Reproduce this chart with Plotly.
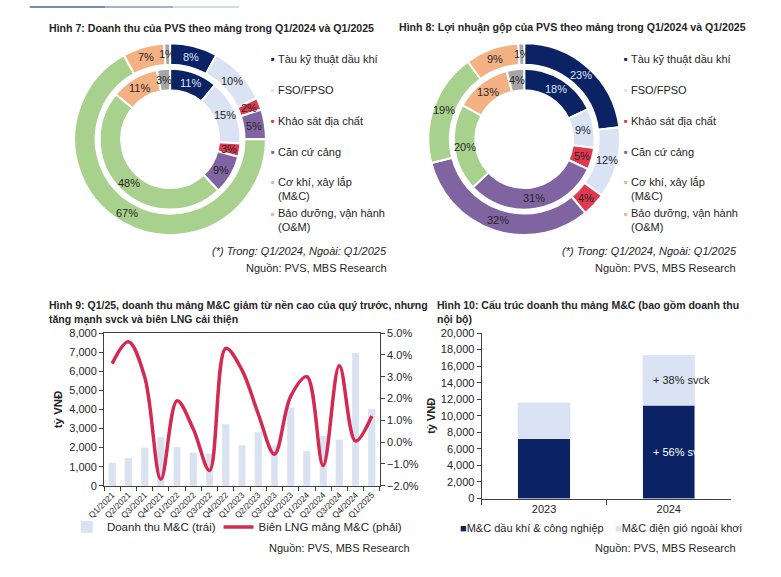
import math
import plotly.graph_objects as go

W, H = 781, 577
FONT = "Liberation Sans, Arial, sans-serif"
TXT = "#262626"

# ---------------- data ----------------
segments = ["Tàu kỹ thuật dầu khí", "FSO/FPSO", "Khảo sát địa chất", "Căn cứ cảng",
            "Cơ khí, xây lắp<br>(M&C)", "Bảo dưỡng, vận hành<br>(O&M)", "Khác"]
seg_colors = ["#0b2264", "#dae3f3", "#e0384f", "#8064a2", "#a9d18e", "#f4b183", "#a6a6a6"]
seg_text_colors = ["#dce6f6", TXT, TXT, TXT, TXT, TXT, TXT]

rev_q1_2024 = [11, 15, 3, 9, 48, 11, 3]     # inner ring, Hình 7
rev_q1_2025 = [8, 10, 2, 5, 67, 7, 1]       # outer ring, Hình 7
gp_q1_2024 = [18, 9, 5, 31, 20, 13, 4]      # inner ring, Hình 8
gp_q1_2025 = [23, 12, 4, 32, 19, 9, 1]      # outer ring, Hình 8

quarters = ["Q1/2021", "Q2/2021", "Q3/2021", "Q4/2021", "Q1/2022", "Q2/2022", "Q3/2022",
            "Q4/2022", "Q1/2023", "Q2/2023", "Q3/2023", "Q4/2023", "Q1/2024", "Q2/2024",
            "Q3/2024", "Q4/2024", "Q1/2025"]
mc_revenue = [1200, 1450, 2000, 2550, 2030, 1740, 1670, 3220, 2120, 2800, 2100, 4080,
              1800, 2600, 2400, 6950, 4020]
mc_margin = [3.6, 4.6, 3.0, -1.7, 1.9, 0.6, -1.3, 4.3, 3.3, 1.3, -0.55, 2.1, 3.0, -1.07,
             3.5, 0.05, 1.2]

years = ["2023", "2024"]
mc_oil_industry = [7250, 11300]
mc_offshore_wind = [4350, 6000]


def px(x):
    return x / W


def py(y):
    return 1 - y / H


def pie_domain(cx, cy, r):
    return dict(x=[(cx - r) / W, (cx + r) / W], y=[1 - (cy + r) / H, 1 - (cy - r) / H])


fig = go.Figure()
ann = []

# ---------------- donuts ----------------
CY = 136
for vals, cx, r, hole in [
    (rev_q1_2025, 156.5, 98, 0.776),
    (rev_q1_2024, 156.5, 72, 0.694),
    (gp_q1_2025, 518.5, 98, 0.776),
    (gp_q1_2024, 518.5, 72, 0.694),
]:
    fig.add_trace(go.Pie(
        values=vals, labels=segments, sort=False, direction="clockwise", rotation=0,
        hole=hole, domain=pie_domain(cx, CY, r),
        marker=dict(colors=seg_colors, line=dict(color="white", width=2)),
        textinfo="none", showlegend=False, hoverinfo="label+value",
    ))
    # value labels at the middle of each ring segment (like the original)
    total = sum(vals)
    rmid = r * (1 + hole) / 2
    cum = 0
    for v, c in zip(vals, seg_text_colors):
        theta = 2 * math.pi * (cum + v / 2) / total
        cum += v
        ann.append(dict(
            x=px(cx + rmid * math.sin(theta)), y=py(CY - rmid * math.cos(theta)),
            xref="paper", yref="paper", text=f"{v}%", showarrow=False,
            xanchor="center", yanchor="middle",
            font=dict(family=FONT, size=11, color=c)))

# ---------------- Hình 9 ----------------
fig.add_trace(go.Bar(
    x=quarters, y=mc_revenue, name="Doanh thu M&C (trái)", marker_color="#d9e2f1",
    xaxis="x", yaxis="y", legend="legend",
))
fig.add_trace(go.Scatter(
    x=quarters, y=mc_margin, name="Biên LNG mảng M&C (phải)", mode="lines",
    line=dict(color="#d42a52", width=3.5, shape="spline", smoothing=1.0),
    xaxis="x", yaxis="y2", legend="legend2",
))

# ---------------- Hình 10 ----------------
fig.add_trace(go.Bar(x=years, y=mc_oil_industry, name="M&C dầu khí & công nghiệp",
                     marker_color="#0b2264", xaxis="x2", yaxis="y3", showlegend=False))
fig.add_trace(go.Bar(x=years, y=mc_offshore_wind, name="M&C điện gió ngoài khơi",
                     marker_color="#dae3f3", xaxis="x2", yaxis="y3", showlegend=False))

AX = "#404040"
tickf = dict(family=FONT, size=11, color=TXT)


def text(x, y, s, size=11, anchor="left", bold=False, italic=False, color=TXT):
    if bold:
        s = f"<b>{s}</b>"
    if italic:
        s = f"<i>{s}</i>"
    ann.append(dict(x=px(x), y=py(y), xref="paper", yref="paper", text=s, showarrow=False,
                    xanchor=anchor, yanchor="middle", align="left",
                    font=dict(family=FONT, size=size, color=color)))


# titles
text(31, 22, "Hình 7: Doanh thu của PVS theo mảng trong Q1/2024 và Q1/2025", size=10.6, bold=True)
text(388, 22, "Hình 8: Lợi nhuận gộp của PVS theo mảng trong Q1/2024 và Q1/2025", size=10.6, bold=True)
text(31, 312.5, "Hình 9: Q1/25, doanh thu mảng M&C giảm từ nền cao của quý trước, nhưng<br>tăng mạnh svck và biên LNG cải thiện", size=10.5, bold=True)
text(427, 312.5, "Hình 10: Cấu trúc doanh thu mảng M&C (bao gồm doanh thu<br>nội bộ)", size=10.5, bold=True)

# notes / sources
text(380, 250, "(*) Trong: Q1/2024, Ngoài: Q1/2025", italic=True, anchor="right")
text(380, 268, "Nguồn: PVS, MBS Research", anchor="right")
text(738, 250, "(*) Trong: Q1/2024, Ngoài: Q1/2025", italic=True, anchor="right")
text(737, 268, "Nguồn: PVS, MBS Research", anchor="right")
text(404, 554, "Nguồn: PVS, MBS Research", anchor="right")
text(737, 554, "Nguồn: PVS, MBS Research", anchor="right")

# donut legends
leg_y = [54.5, 86, 117.5, 149, 186.5, 219]
for x0 in (262, 623):
    for i in range(6):
        multi = "<br>" in segments[i]
        ymark = leg_y[i] - 6.5 if multi else leg_y[i]
        ann.append(dict(x=px(x0), y=py(ymark), xref="paper", yref="paper",
                        text=f"<span style='color:{seg_colors[i]}'>■</span>", showarrow=False,
                        xanchor="center", yanchor="middle",
                        font=dict(family=FONT, size=6, color=seg_colors[i])))
        text(x0 + 3, leg_y[i], segments[i], size=11)

# Hình 10 legend
text(451, 533, "<span style='color:#0b2264'>■</span>M&C dầu khí & công nghiệp", size=11)
text(609, 533, "<span style='color:#dae3f3'>■</span>M&C điện gió ngoài khơi", size=11)

# Hình 10 bar labels
ann.append(dict(x=0.86, y=14300, xref="x2", yref="y3", text="+ 38% svck", showarrow=False,
                xanchor="left", yanchor="middle", font=dict(family=FONT, size=11, color=TXT)))
ann.append(dict(x=0.86, y=5600, xref="x2", yref="y3", text="+ 56% svck", showarrow=False,
                xanchor="left", yanchor="middle", font=dict(family=FONT, size=11, color="white")))

shapes = [
    dict(type="rect", xref="paper", yref="paper", x0=px(13), x1=px(90), y0=py(2), y1=1,
         fillcolor="#7890aa", line_width=0),
    dict(type="rect", xref="paper", yref="paper", x0=px(90), x1=px(160), y0=py(2), y1=1,
         fillcolor="#a3b4c6", line_width=0),
    dict(type="rect", xref="paper", yref="paper", x0=px(160), x1=px(227), y0=py(2), y1=1,
         fillcolor="#d3dce6", line_width=0),
]

legfont = dict(family=FONT, size=11.5, color=TXT)

fig.update_layout(
    width=W, height=H, margin=dict(l=0, r=0, t=0, b=0),
    paper_bgcolor="white", plot_bgcolor="white",
    font=dict(family=FONT, color=TXT),
    barmode="stack", bargap=0.58,
    xaxis=dict(domain=[px(89), px(371)], anchor="y", type="category", tickangle=-45,
               tickfont=dict(family=FONT, size=8.5, color=TXT), ticks="outside", ticklen=4,
               tickson="boundaries", tickcolor=AX, showline=True, linecolor=AX, linewidth=1,
               mirror=True, showgrid=False),
    yaxis=dict(domain=[py(490), py(334)], anchor="x", range=[0, 8000], dtick=1000,
               tickformat=",", ticks="outside", ticklen=4, tickcolor=AX, tickfont=tickf,
               showline=True, linecolor=AX, showgrid=False, zeroline=False,
               title=dict(text="<b>tỷ VNĐ</b>", font=dict(family=FONT, size=11.5, color=TXT),
                          standoff=4)),
    yaxis2=dict(overlaying="y", side="right", anchor="x", range=[-2, 5], dtick=1,
                tickformat=".1f", ticksuffix="%", ticks="outside", ticklen=4, tickcolor=AX,
                tickfont=tickf, showline=True, linecolor=AX, showgrid=False, zeroline=False),
    xaxis2=dict(domain=[px(475), px(730)], anchor="y3", type="category", ticks="outside",
                ticklen=5, tickson="boundaries", tickcolor=AX, showline=True, linecolor=AX,
                tickfont=dict(family=FONT, size=11, color=TXT), showgrid=False),
    yaxis3=dict(domain=[py(503), py(334)], anchor="x2", range=[0, 20000], dtick=2000,
                tickformat=",", ticks="outside", ticklen=4, tickcolor=AX,
                tickfont=dict(family=FONT, size=11, color=TXT),
                showline=True, linecolor=AX, showgrid=False, zeroline=False,
                title=dict(text="<b>tỷ VNĐ</b>", font=dict(family=FONT, size=11, color=TXT),
                           standoff=2)),
    legend=dict(orientation="h", x=px(51), xanchor="left", y=py(532), yanchor="middle",
                font=legfont, bgcolor="rgba(0,0,0,0)"),
    legend2=dict(orientation="h", x=px(206), xanchor="left", y=py(532), yanchor="middle",
                 font=legfont, bgcolor="rgba(0,0,0,0)"),
    annotations=ann,
    shapes=shapes,
)

fig.write_html("out.html")
